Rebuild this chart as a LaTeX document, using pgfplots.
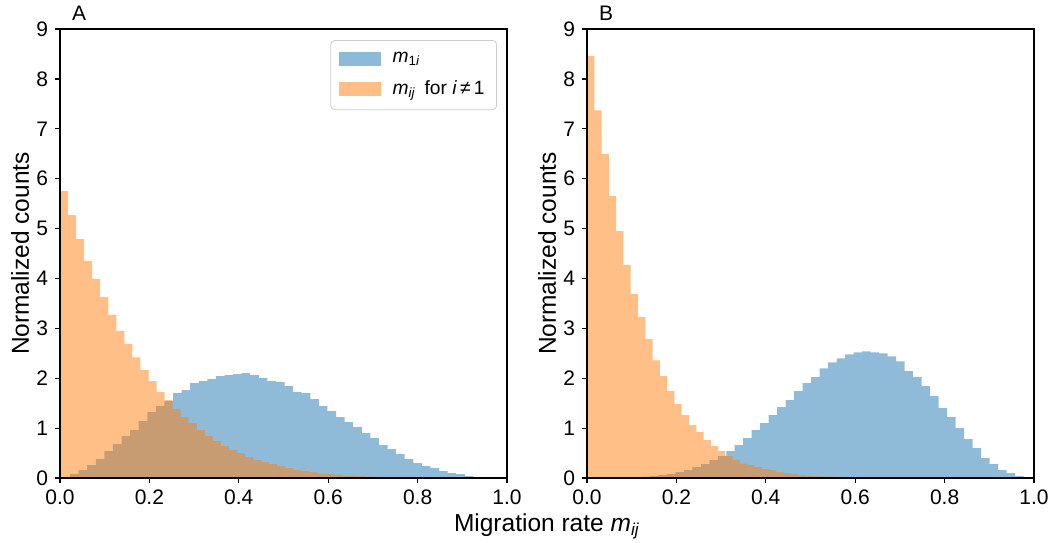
\documentclass[border=0pt]{standalone}
\usepackage{fontspec}
\setmainfont{Liberation Sans}
\usepackage{pgfplots}
\pgfplotsset{compat=1.18}
\definecolor{mblue}{HTML}{1F77B4}
\definecolor{morange}{HTML}{FF7F0E}
\newcommand{\fsTick}{\fontsize{10.5}{12}\selectfont}
\newcommand{\fsLeg}{\fontsize{9.6}{11}\selectfont}
\newcommand{\fsLab}{\fontsize{12.25}{14}\selectfont}

\pgfplotstableread{
x y
0.0032 0.01
0.0224 0.08
0.0416 0.16
0.0608 0.26
0.0800 0.38
0.0992 0.54
0.1184 0.68
0.1376 0.84
0.1568 0.96
0.1760 1.14
0.1952 1.32
0.2144 1.44
0.2336 1.54
0.2528 1.70
0.2720 1.76
0.2912 1.90
0.3104 1.94
0.3296 1.98
0.3488 2.04
0.3680 2.06
0.3872 2.08
0.4064 2.10
0.4256 2.06
0.4448 2.00
0.4640 1.94
0.4832 1.92
0.5024 1.84
0.5216 1.72
0.5408 1.70
0.5600 1.58
0.5792 1.44
0.5984 1.34
0.6176 1.22
0.6368 1.12
0.6560 1.02
0.6752 0.90
0.6944 0.80
0.7136 0.66
0.7328 0.58
0.7520 0.48
0.7712 0.38
0.7904 0.30
0.8096 0.24
0.8288 0.20
0.8480 0.14
0.8672 0.10
0.8864 0.08
0.9056 0.04
0.9248 0.02
0.9440 0.01
0.9632 0.01
}\blueA

\pgfplotstableread{
x y
0.000 5.75
0.018 5.27
0.036 4.79
0.054 4.35
0.072 3.99
0.090 3.63
0.108 3.27
0.126 2.95
0.144 2.69
0.162 2.42
0.180 2.16
0.198 1.94
0.216 1.72
0.234 1.56
0.252 1.38
0.270 1.22
0.288 1.10
0.306 0.96
0.324 0.84
0.342 0.74
0.360 0.64
0.378 0.56
0.396 0.50
0.414 0.42
0.432 0.36
0.450 0.32
0.468 0.28
0.486 0.24
0.504 0.20
0.522 0.16
0.540 0.14
0.558 0.12
0.576 0.09
0.594 0.08
0.612 0.07
0.630 0.05
0.648 0.05
0.666 0.04
0.684 0.03
0.702 0.02
0.720 0.02
0.738 0.015
0.756 0.01
0.774 0.008
0.792 0.006
0.810 0.004
0.828 0.003
0.846 0.002
0.864 0.001
0.882 0.001
0.900 0.001
}\orangeA

\pgfplotstableread{
x y
0.0455 0.002
0.0645 0.005
0.0835 0.01
0.1025 0.02
0.1215 0.03
0.1405 0.04
0.1595 0.06
0.1785 0.08
0.1975 0.12
0.2165 0.16
0.2355 0.22
0.2545 0.28
0.2735 0.36
0.2925 0.44
0.3115 0.54
0.3305 0.66
0.3495 0.80
0.3685 0.96
0.3875 1.10
0.4065 1.26
0.4255 1.42
0.4445 1.56
0.4635 1.74
0.4825 1.90
0.5015 2.02
0.5205 2.20
0.5395 2.32
0.5585 2.40
0.5775 2.48
0.5965 2.52
0.6155 2.54
0.6345 2.52
0.6535 2.50
0.6725 2.44
0.6915 2.34
0.7105 2.14
0.7295 2.02
0.7485 1.84
0.7675 1.64
0.7865 1.40
0.8055 1.22
0.8245 1.00
0.8435 0.78
0.8625 0.60
0.8815 0.40
0.9005 0.28
0.9195 0.16
0.9385 0.10
0.9575 0.04
0.9765 0.02
0.9955 0.02
}\blueB

\pgfplotstableread{
x y
0.0000 8.46
0.0163 7.37
0.0326 6.49
0.0489 5.65
0.0652 4.95
0.0815 4.27
0.0978 3.69
0.1141 3.23
0.1304 2.79
0.1467 2.36
0.1630 2.04
0.1793 1.74
0.1956 1.48
0.2119 1.26
0.2282 1.06
0.2445 0.92
0.2608 0.76
0.2771 0.64
0.2934 0.54
0.3097 0.44
0.3260 0.36
0.3423 0.29
0.3586 0.26
0.3749 0.22
0.3912 0.18
0.4075 0.16
0.4238 0.12
0.4401 0.10
0.4564 0.08
0.4727 0.06
0.4890 0.05
0.5053 0.04
0.5216 0.03
0.5379 0.03
0.5542 0.02
0.5705 0.02
0.5868 0.015
0.6031 0.01
0.6194 0.01
0.6357 0.008
0.6520 0.006
0.6683 0.005
0.6846 0.004
0.7009 0.003
0.7172 0.002
0.7335 0.002
0.7498 0.001
0.7661 0.001
0.7824 0.001
0.7987 0.001
0.8150 0.001
}\orangeB

\pgfplotsset{
  histaxis/.style={
    anchor=south west, scale only axis,
    width=223.5pt, height=224.5pt,
    xmin=0, xmax=1, ymin=0, ymax=9,
    xtick={0,0.2,0.4,0.6,0.8,1},
    ytick={0,1,2,3,4,5,6,7,8,9},
    tick align=outside, tick pos=left,
    major tick length=2.5pt,
    every tick/.style={black, line width=0.6pt},
    axis line style={black, line width=0.6pt},
    axis on top,
    /pgf/number format/assume math mode=true,
    tick label style={font=\fsTick},
    xticklabel style={/pgf/number format/fixed, /pgf/number format/fixed zerofill, /pgf/number format/precision=1},
    ylabel={Normalized counts},
    every axis y label/.style={at={(axis description cs:-0.0895,0.5)}, rotate=90, anchor=center, font=\fsLab},
    every axis title/.style={at={(axis description cs:0,1)}, anchor=base west, xshift=2.5pt, yshift=4.2pt, font=\fsTick},
  },
  bluehist/.style={const plot, fill=mblue, fill opacity=0.5, draw=none},
  orangehist/.style={const plot, fill=morange, fill opacity=0.5, draw=none},
}

\begin{document}
\begin{tikzpicture}[x=1pt,y=1pt]
\useasboundingbox (0,0) rectangle (526,271);
\begin{axis}[histaxis, at={(30pt,32pt)}, title={A},
  legend style={at={(axis description cs:0.9776,0.9755)}, anchor=north east,
    draw=black!20, rounded corners=2pt, font=\fsLeg,
    inner xsep=4pt, inner ysep=4pt, row sep=3.5pt},
  legend cell align=left,
  legend image code/.code={\fill[#1, draw=none, sharp corners] (0pt,-3.5pt) rectangle (21pt,3.5pt); \path (25pt,0pt);},
]
\addplot[bluehist] table {\blueA} \closedcycle;
\addlegendentry{\textit{m}\textsubscript{1\textit{i}}}
\addplot[orangehist] table {\orangeA} \closedcycle;
\addlegendentry{\textit{m}\textsubscript{\textit{ij}}\, for \textit{i}\,≠\,1\hspace{3pt}}
\end{axis}
\begin{axis}[histaxis, at={(293.5pt,32pt)}, title={B}]
\addplot[bluehist] table {\blueB} \closedcycle;
\addplot[orangehist] table {\orangeB} \closedcycle;
\end{axis}
\node[anchor=base, font=\fsLab] at (273.5,5.2) {Migration rate \textit{m}\textsubscript{\textit{ij}}};
\end{tikzpicture}
\end{document}
